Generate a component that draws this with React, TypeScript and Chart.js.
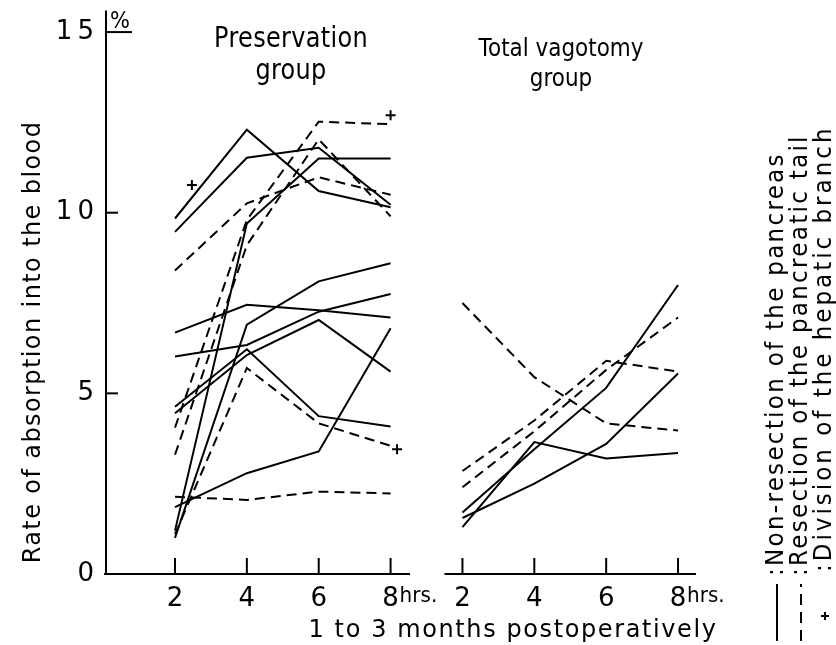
import React, { useEffect, useRef } from "react";
import { Chart, registerables } from "chart.js";

Chart.register(...registerables);

// ---- tick definitions ----
const hours = [2, 4, 6, 8];
const vagotomyShift = 8; // second panel drawn on the same x scale, shifted right
const xTickValues = [2, 4, 6, 8, 10, 12, 14, 16];
const xTickLabels = ["2", "4", "6", "8", "2", "4", "6", "8"];
const yTickValues = [0, 5, 10, 15];
const yTickLabels = ["0", "5", "1\u20090", "1\u20095"];

// ---- Preservation group: non-resection of the pancreas (solid) ----
const presNonRes1 = [9.84, 12.3, 10.6, 10.15];
const presNonRes2 = [9.47, 11.52, 11.8, 10.22];
const presNonRes3 = [1.2, 9.7, 11.5, 11.5];
const presNonRes4 = [6.68, 7.45, 7.3, 7.1];
const presNonRes5 = [6.02, 6.34, 7.26, 7.75];
const presNonRes6 = [4.63, 6.22, 4.37, 4.08];
const presNonRes7 = [4.45, 6.06, 7.03, 5.6];
const presNonRes8 = [1.0, 6.9, 8.1, 8.6];
const presNonRes9 = [1.85, 2.79, 3.39, 6.8];

// ---- Preservation group: resection of the pancreatic tail (dashed) ----
const presRes1 = [8.4, 10.26, 10.98, 10.5];
const presRes2 = [4.05, 9.8, 12.52, 12.45];
const presRes3 = [3.3, 9.1, 12.03, 9.9];
const presRes4 = [1.1, 5.7, 4.17, 3.55];
const presRes5 = [2.14, 2.05, 2.28, 2.23];

// ---- Total vagotomy group ----
const vagNonRes1 = [1.3, 3.65, 3.2, 3.35];
const vagNonRes2 = [1.55, 2.5, 3.6, 5.55];
const vagNonRes3 = [1.7, 3.45, 5.15, 8.0];
const vagRes1 = [7.5, 5.45, 4.17, 3.97];
const vagRes2 = [2.85, 4.25, 5.9, 5.6];
const vagRes3 = [2.4, 3.95, 5.65, 7.1];

// ---- Division of the hepatic branch marks (+) ----
const hepaticX = [2.47, 8.0, 8.18];
const hepaticY = [10.77, 12.7, 3.45];

const FONT = '"DejaVu Sans", sans-serif';

const presSolid = [presNonRes1, presNonRes2, presNonRes3, presNonRes4, presNonRes5, presNonRes6, presNonRes7, presNonRes8, presNonRes9];
const presDashed = [presRes1, presRes2, presRes3, presRes4, presRes5];
const vagSolid = [vagNonRes1, vagNonRes2, vagNonRes3];
const vagDashed = [vagRes1, vagRes2, vagRes3];

function lineDataset(vals: number[], shift: number, dashed: boolean) {
  return {
    type: "line" as const,
    data: hours.map((h, i) => ({ x: h + shift, y: vals[i] })),
    borderColor: "#000",
    borderWidth: 2,
    borderDash: dashed ? [10, 6] : [],
    pointRadius: 0,
    fill: false,
    tension: 0,
  };
}

const decorPlugin = {
  id: "decor",
  afterDraw(chart: any) {
    const { ctx, chartArea } = chart;
    const xs = chart.scales.x;
    const ys = chart.scales.y;
    const X = (v: number) => xs.getPixelForValue(v);
    const Y = (v: number) => ys.getPixelForValue(v);
    ctx.save();
    ctx.strokeStyle = "#000";
    ctx.fillStyle = "#000";
    ctx.lineWidth = 2;
    const seg = (x1: number, y1: number, x2: number, y2: number) => {
      ctx.beginPath();
      ctx.moveTo(x1, y1);
      ctx.lineTo(x2, y2);
      ctx.stroke();
    };
    const left = chartArea.left;
    const base = Y(0);
    // axes
    seg(left, Y(15.6), left, base + 1);
    seg(left - 2, base, X(8.54), base);
    seg(X(9.5), base, X(16.5), base);
    xTickValues.forEach((v) => seg(X(v), base, X(v), base - 16));
    [5, 10].forEach((v) => seg(left, Y(v), left + 12, Y(v)));
    seg(left, Y(15), left + 26, Y(15));

    const text = (
      s: string,
      x: number,
      y: number,
      size: number,
      align: CanvasTextAlign = "center",
      spacing = 0,
      rot = 0,
      baseline: CanvasTextBaseline = "alphabetic",
      sy = 1.1
    ) => {
      ctx.save();
      ctx.font = `${size}px ${FONT}`;
      (ctx as any).letterSpacing = `${spacing}px`;
      ctx.textAlign = align;
      ctx.textBaseline = baseline;
      ctx.translate(x, y);
      if (rot) ctx.rotate(rot);
      ctx.scale(1, sy);
      ctx.fillText(s, 0, 0);
      ctx.restore();
    };
    // percent sign
    text("%", left + 14, Y(15) - 4, 21);
    // hrs.
    text("hrs.", X(8) + 9, base + 28, 20, "left");
    text("hrs.", X(16) + 9, base + 28, 20, "left");
    // panel titles
    text("Preservation", 291, 47, 24, "center", 0.3, 0, "alphabetic", 1.15);
    text("group", 291, 79, 24, "center", 0.3, 0, "alphabetic", 1.15);
    text("Total vagotomy", 561, 56, 21.5, "center", 0, 0, "alphabetic", 1.12);
    text("group", 561, 86, 21.5, "center", 0, 0, "alphabetic", 1.12);
    // axis titles
    text("Rate of absorption into the blood", 40, 342, 24, "center", 1.4, -Math.PI / 2, "alphabetic", 1.05);
    text("1 to 3 months postoperatively", 513, 637, 24, "center", 1.6, 0, "alphabetic", 1.05);

    // legend (rotated)
    const colX = [777, 801, 825];
    ctx.lineWidth = 2;
    seg(colX[0], 641, colX[0], 584);
    ctx.setLineDash([11, 7]);
    seg(colX[1], 641, colX[1], 584);
    ctx.setLineDash([]);
    seg(colX[2] - 4, 616, colX[2] + 4, 616);
    seg(colX[2], 612, colX[2], 620);
    text(":Non-resection of the pancreas", colX[0], 576, 23, "left", 2.3, -Math.PI / 2, "middle", 1.05);
    text(":Resection of the pancreatic tail", colX[1], 576, 23, "left", 2.3, -Math.PI / 2, "middle", 1.05);
    text(":Division of the hepatic branch", colX[2], 572, 23, "left", 3.0, -Math.PI / 2, "middle", 1.05);
    ctx.restore();
  },
};

export default function App() {
  const ref = useRef<HTMLCanvasElement | null>(null);
  useEffect(() => {
    if (!ref.current) return;
    const datasets: any[] = [
      ...presSolid.map((v) => lineDataset(v, 0, false)),
      ...presDashed.map((v) => lineDataset(v, 0, true)),
      ...vagSolid.map((v) => lineDataset(v, vagotomyShift, false)),
      ...vagDashed.map((v) => lineDataset(v, vagotomyShift, true)),
      {
        type: "scatter",
        data: hepaticX.map((x, i) => ({ x, y: hepaticY[i] })),
        pointStyle: "cross",
        pointRadius: 5,
        borderColor: "#000",
        backgroundColor: "#000",
        borderWidth: 2,
        showLine: false,
      },
    ];
    const chart = new Chart(ref.current, {
      type: "line",
      data: { datasets },
      options: {
        animation: false,
        responsive: false,
        maintainAspectRatio: false,
        layout: { padding: { left: 0, top: 10.4, right: 140, bottom: 0 } },
        plugins: { legend: { display: false }, tooltip: { enabled: false }, title: { display: false } },
        scales: {
          x: {
            type: "linear",
            min: 0.08,
            max: 16.5,
            grid: { display: false },
            border: { display: false },
            afterBuildTicks: (s: any) => {
              s.ticks = xTickValues.map((v) => ({ value: v }));
            },
            afterFit: (s: any) => {
              s.height = 71;
              s.paddingLeft = 0;
              s.paddingRight = 0;
            },
            ticks: {
              autoSkip: false,
              maxRotation: 0,
              padding: 2,
              color: "#000",
              font: { family: FONT, size: 26 },
              callback: (v: any) => {
                const i = xTickValues.indexOf(Number(v));
                return i >= 0 ? xTickLabels[i] : "";
              },
            },
          },
          y: {
            type: "linear",
            min: 0,
            max: 15.6,
            grid: { display: false },
            border: { display: false },
            afterBuildTicks: (s: any) => {
              s.ticks = yTickValues.map((v) => ({ value: v }));
            },
            afterFit: (s: any) => {
              s.width = 106;
              s.paddingTop = 0;
              s.paddingBottom = 0;
            },
            ticks: {
              padding: 4,
              color: "#000",
              font: { family: FONT, size: 26 },
              callback: (v: any) => {
                const i = yTickValues.indexOf(Number(v));
                return i >= 0 ? yTickLabels[i] : "";
              },
            },
          },
        },
      } as any,
      plugins: [decorPlugin],
    });
    return () => chart.destroy();
  }, []);
  return (
    <div style={{ position: "absolute", left: 0, top: 0, width: 836, height: 645, background: "#fff" }}>
      <canvas ref={ref} width={836} height={645} style={{ display: "block", width: 836, height: 645 }} />
    </div>
  );
}
